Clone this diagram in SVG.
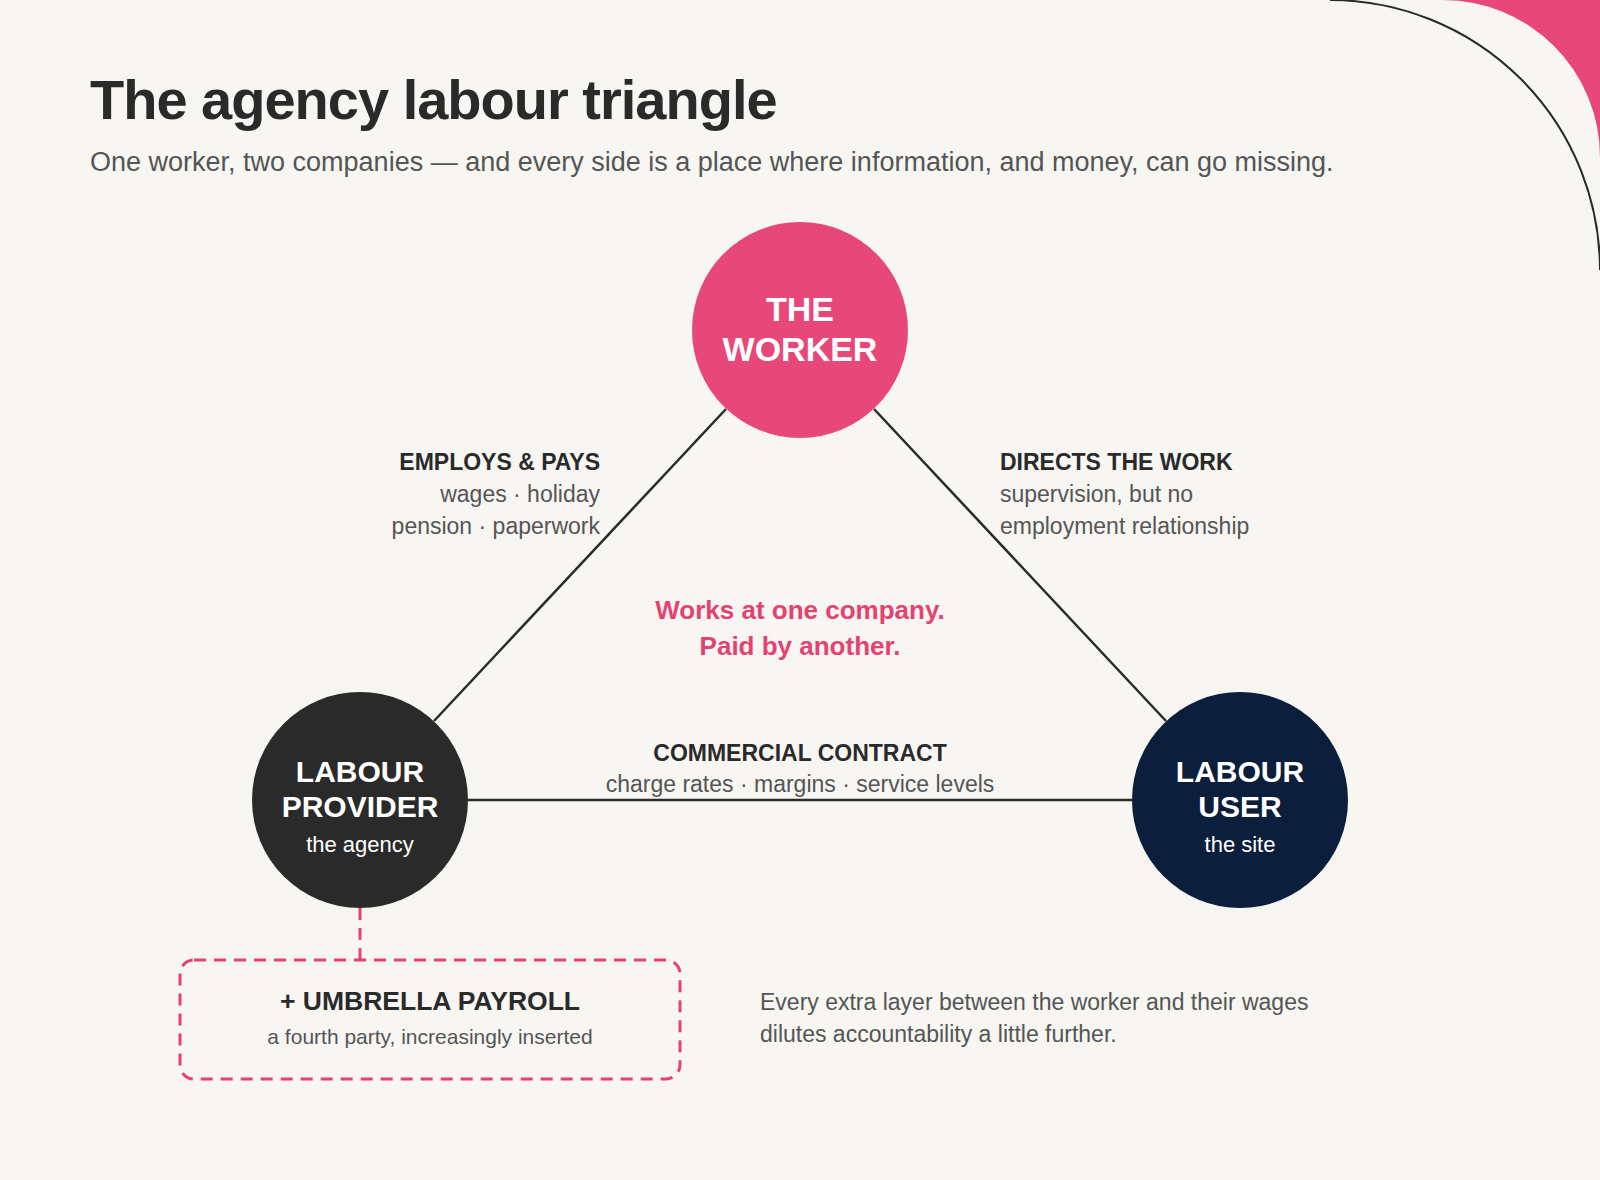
<svg xmlns="http://www.w3.org/2000/svg" width="1600" height="1180" viewBox="0 0 1600 1180">
<style>
text{font-family:"Liberation Sans",Arial,sans-serif}
.h{font-weight:bold;fill:#2a2a2a}
.s{fill:#555}
.w{fill:#fff;font-weight:bold}
.ws{fill:#fff}
.edge{stroke:#2a2a2a;stroke-width:2.5;fill:none}
.dash{stroke:#e5426f;stroke-width:3;stroke-dasharray:12 8;fill:none}
</style>
<rect width="1600" height="1180" fill="#f7f6f3"/>
<path d="M1443,0 A157,157 0 0 1 1600,157 L1600,0 Z" fill="#e8477a"/>
<path d="M1330,0 A270,270 0 0 1 1600,270" fill="none" stroke="#2a2a2a" stroke-width="2"/>
<text x="90" y="119" class="h" font-size="56" letter-spacing="-1">The agency labour triangle</text>
<text x="90" y="171" class="s" font-size="27">One worker, two companies — and every side is a place where information, and money, can go missing.</text>
<g id="connectors">
<line class="edge" x1="726" y1="409" x2="434" y2="721"/>
<line class="edge" x1="874" y1="409" x2="1166" y2="721"/>
<line class="edge" x1="468" y1="800" x2="1132" y2="800"/>
<line class="dash" x1="360" y1="908" x2="360" y2="960"/>
</g>
<g id="label-employs" text-anchor="end">
<text x="600" y="470" class="h" font-size="23">EMPLOYS &amp; PAYS</text>
<text x="600" y="502" class="s" font-size="23">wages · holiday</text>
<text x="600" y="534" class="s" font-size="23">pension · paperwork</text>
</g>
<g id="label-directs">
<text x="1000" y="470" class="h" font-size="23">DIRECTS THE WORK</text>
<text x="1000" y="502" class="s" font-size="23">supervision, but no</text>
<text x="1000" y="534" class="s" font-size="23">employment relationship</text>
</g>
<g id="label-center" text-anchor="middle">
<text x="800" y="619" font-size="26" fill="#e5426f" font-weight="bold">Works at one company.</text>
<text x="800" y="655" font-size="26" fill="#e5426f" font-weight="bold">Paid by another.</text>
</g>
<g id="label-contract" text-anchor="middle">
<text x="800" y="761" class="h" font-size="23">COMMERCIAL CONTRACT</text>
<text x="800" y="792" class="s" font-size="23">charge rates · margins · service levels</text>
</g>
<g id="worker" text-anchor="middle">
<circle cx="800" cy="330" r="108" fill="#e8477a"/>
<text x="800" y="321" class="w" font-size="34">THE</text>
<text x="800" y="361" class="w" font-size="34">WORKER</text>
</g>
<g id="provider" text-anchor="middle">
<circle cx="360" cy="800" r="108" fill="#2a2a2a"/>
<text x="360" y="782" class="w" font-size="30">LABOUR</text>
<text x="360" y="817" class="w" font-size="30">PROVIDER</text>
<text x="360" y="852" class="ws" font-size="22">the agency</text>
</g>
<g id="user" text-anchor="middle">
<circle cx="1240" cy="800" r="108" fill="#0b1e3b"/>
<text x="1240" y="782" class="w" font-size="30">LABOUR</text>
<text x="1240" y="817" class="w" font-size="30">USER</text>
<text x="1240" y="852" class="ws" font-size="22">the site</text>
</g>
<g id="umbrella" text-anchor="middle">
<rect x="180" y="960" width="500" height="119" rx="14" fill="#fff" class="dash"/>
<text x="430" y="1010" class="h" font-size="26.5">+ UMBRELLA PAYROLL</text>
<text x="430" y="1044" class="s" font-size="21">a fourth party, increasingly inserted</text>
</g>
<g id="note">
<text x="760" y="1010" class="s" font-size="23">Every extra layer between the worker and their wages</text>
<text x="760" y="1042" class="s" font-size="23">dilutes accountability a little further.</text>
</g>
</svg>
